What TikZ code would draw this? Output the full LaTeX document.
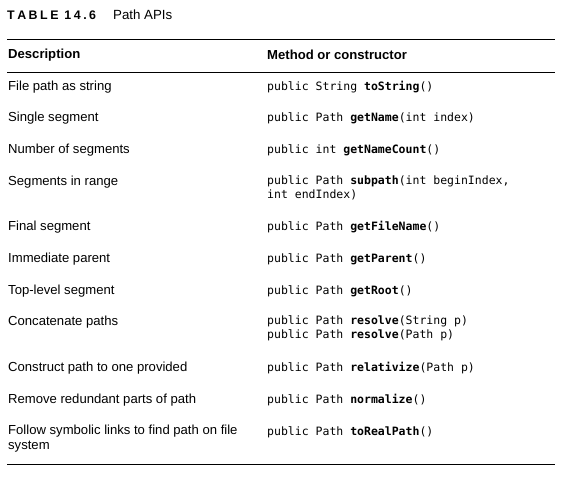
\documentclass[tikz,border=0pt]{standalone}
\usepackage{fontspec}
\setmainfont{Liberation Sans}
\setmonofont{DejaVu Sans Mono}
\tikzset{desc/.style={anchor=west, inner sep=0pt, font=\fontsize{13.1}{14.5}\selectfont, align=left},
 meth/.style={anchor=west, inner sep=0pt, font=\ttfamily\fontsize{11.5}{14.5}\selectfont, align=left},
 head/.style={desc, font=\bfseries\fontsize{13.1}{14.5}\selectfont},
 rule/.style={line width=1pt},
 }

\begin{document}
\begin{tikzpicture}[x=1pt, y=-1pt]
        \useasboundingbox (0, 0) rectangle (567, 477);
        % title
        \node[anchor=west, inner sep=0pt, font=\bfseries\fontsize{12.4}{14}\selectfont] (title) at (7, 15) {T\kern2.5pt A\kern2.5pt B\kern2.5pt L\kern2.5pt E\kern2.5pt\ 1\kern2.5pt 4\kern2.5pt .\kern2.5pt 6};
        \node[anchor=west, inner sep=0pt, font=\fontsize{13.3}{14}\selectfont] (caption) at (113, 15) {Path APIs};

        \coordinate (r1a) at (7, 39);   \coordinate (r1b) at (555, 39);
        \coordinate (r2a) at (7, 72);   \coordinate (r2b) at (555, 72);
        \coordinate (r3a) at (7, 464);  \coordinate (r3b) at (555, 464);
        \draw[rule] (r1a) -- (r1b);
        \draw[rule] (r2a) -- (r2b);
        \draw[rule] (r3a) -- (r3b);

        % header
        \node[head] (hdesc) at (8, 55) {Description};
        \node[head] (hmeth) at (267, 55) {Method or constructor};

        % rows
        \node[desc] (d1) at (8, 87) {File path as string};
        \node[meth] (m1) at (267, 87) {public String \textbf{toString}()};

        \node[desc] (d2) at (8, 118) {Single segment};
        \node[meth] (m2) at (267, 118) {public Path \textbf{getName}(int index)};

        \node[desc] (d3) at (8, 150) {Number of segments};
        \node[meth] (m3) at (267, 150) {public int \textbf{getNameCount}()};

        \node[desc] (d4) at (8, 182) {Segments in range};
        \node[meth, anchor=north west] (m4) at (267, 175) {public Path \textbf{subpath}(int beginIndex,\\int endIndex)};

        \node[desc] (d5) at (8, 227) {Final segment};
        \node[meth] (m5) at (267, 227) {public Path \textbf{getFileName}()};

        \node[desc] (d6) at (8, 259) {Immediate parent};
        \node[meth] (m6) at (267, 259) {public Path \textbf{getParent}()};

        \node[desc] (d7) at (8, 291) {Top-level segment};
        \node[meth] (m7) at (267, 291) {public Path \textbf{getRoot}()};

        \node[desc] (d8) at (8, 322) {Concatenate paths};
        \node[meth, anchor=north west] (m8) at (267, 315) {public Path \textbf{resolve}(String p)\\public Path \textbf{resolve}(Path p)};

        \node[desc] (d9) at (8, 368) {Construct path to one provided};
        \node[meth] (m9) at (267, 368) {public Path \textbf{relativize}(Path p)};

        \node[desc] (d10) at (8, 400) {Remove redundant parts of path};
        \node[meth] (m10) at (267, 400) {public Path \textbf{normalize}()};

        \node[desc, anchor=north west] (d11) at (8, 425) {Follow symbolic links to find path on file\\system};
        \node[meth] (m11) at (267, 432) {public Path \textbf{toRealPath}()};
    \end{tikzpicture}
\end{document}
